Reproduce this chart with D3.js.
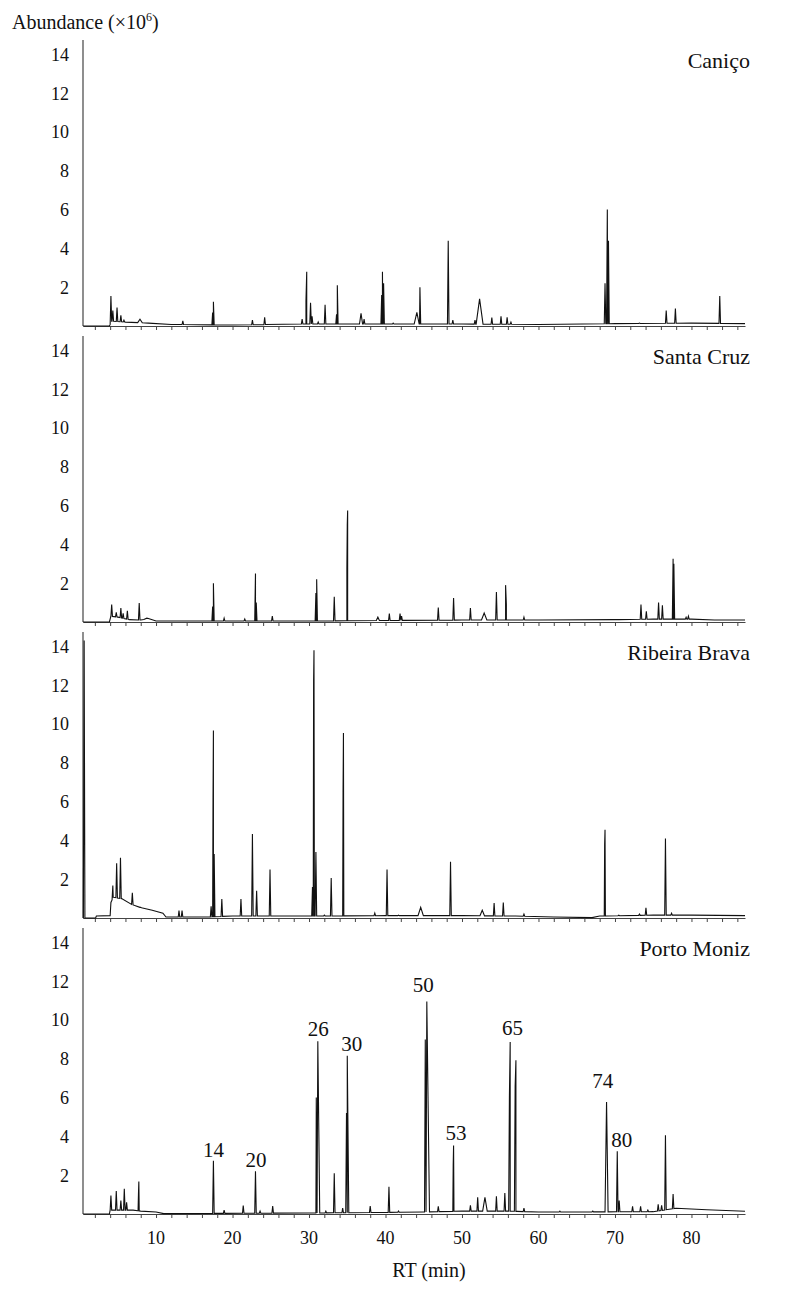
<!DOCTYPE html>
<html>
<head>
<meta charset="utf-8">
<script src="https://cdn.jsdelivr.net/npm/d3@7"></script>
<style>
  body { margin: 0; background: #fff; }
</style>
</head>
<body>
<script>
var width = 791, height = 1291;
var serifFont = "'Liberation Serif'";

// panel names, top to bottom
var sites = ["Caniço", "Santa Cruz", "Ribeira Brava", "Porto Moniz"];

// baseline drift of each trace: [RT (min), abundance x10^6]
var canicoBase = [[0.45,0],[3.9,0],[4.2,0.25],[6,0.2],[9,0.15],[12,0.08],[20,0.05],[29,0.1],[40,0.1],[50,0.1],[60,0.08],[70,0.12],[80,0.15],[87,0.12]];
var santaCruzBase = [[0.45,0],[3.9,0],[4.1,0.3],[5,0.25],[6.5,0.12],[8,0.1],[9,0.18],[10,0.05],[30,0.05],[40,0.08],[50,0.1],[60,0.1],[70,0.12],[75,0.15],[80,0.15],[83,0.1],[87,0.1]];
var ribeiraBase = [[0.45,0],[2.1,0],[2.2,0.1],[4.0,0.12],[4.1,0.8],[4.4,1.07],[5.5,1.0],[6.8,0.7],[7.9,0.55],[9.5,0.4],[10.9,0.25],[11.3,0.05],[16.5,0.05],[20,0.1],[30,0.1],[40,0.12],[50,0.12],[57,0.1],[62,0.05],[67,0.02],[68,0.1],[75,0.15],[80,0.15],[87,0.12]];
var portoBase = [[0.45,0],[3.9,0],[4.0,0.2],[7,0.2],[8,0.15],[10,0.1],[11,0.02],[30,0.05],[45,0.1],[50,0.15],[56,0.15],[60,0.1],[75,0.12],[78,0.3],[82,0.22],[87,0.14]];

// peaks: [RT (min), apex abundance x10^6, half width (min, optional)]
var canicoPeaks = [[4.1,1.55],[4.35,0.8],[4.9,0.95],[5.4,0.55],[5.8,0.3],[7.9,0.35,0.3],[13.5,0.26],[17.4,0.7],[17.5,1.25],[22.6,0.3],[24.2,0.45],[29.1,0.35],[29.6,1.3],[29.7,2.8],[30.2,1.2],[30.4,0.5],[31.2,0.2],[32.1,1.1],[33.6,0.6],[33.7,2.1],[36.8,0.65,0.2],[37.2,0.35],[39.5,1.6],[39.6,2.8],[39.75,2.2],[41.0,0.15],[44.1,0.7,0.35],[44.5,2.0],[48.2,4.4],[48.8,0.3],[51.7,0.3],[52.3,1.4,0.45],[53.9,0.43],[55.1,0.5],[55.9,0.45],[56.4,0.2],[68.7,2.2],[69.0,6.0],[69.15,4.4],[73.2,0.15],[76.7,0.8],[77.9,0.9],[83.7,1.55]];
var santaCruzPeaks = [[4.2,0.9],[4.8,0.5],[5.4,0.72],[5.7,0.45],[6.25,0.58],[7.8,0.98],[8.8,0.2,0.4],[17.4,0.8],[17.5,2.0],[18.9,0.2],[21.6,0.15],[23.0,2.5],[23.1,1.0],[25.2,0.3],[30.9,1.5],[31.0,2.2],[33.3,1.3],[34.95,2.8],[35.0,5.0],[35.05,5.75],[39.0,0.25,0.2],[40.5,0.43],[41.9,0.43],[42.1,0.3],[46.9,0.75],[48.9,1.24],[51.1,0.72],[52.9,0.46,0.35],[54.5,1.55],[55.7,1.9],[55.8,0.9],[58.1,0.25],[70.4,0.12],[73.4,0.9],[74.1,0.55],[75.7,1.0],[76.2,0.86],[77.6,3.26],[77.7,3.0],[79.3,0.25],[79.6,0.3]];
var ribeiraPeaks = [[0.6,14.3],[4.35,1.67],[4.85,2.82],[5.35,3.1],[6.9,1.3],[8.0,0.55],[13.0,0.38],[13.4,0.38],[17.2,0.6],[17.45,6.2],[17.5,9.66],[17.6,3.3],[18.6,0.98],[21.1,0.98],[22.6,4.33],[23.15,1.4],[24.9,2.5],[27.6,0.1],[30.45,1.6],[30.6,12.2],[30.65,13.8],[30.9,3.4],[32.0,0.15],[32.9,2.06],[34.45,6.5],[34.5,9.54],[38.6,0.25],[40.2,2.5],[41.7,0.15],[44.6,0.55,0.35],[48.5,2.9],[52.65,0.4,0.3],[54.2,0.77],[55.4,0.8],[58.1,0.2],[68.65,3.8],[68.7,4.55],[70.5,0.15],[73.2,0.2],[74.05,0.52],[76.6,4.1],[77.4,0.25]];
var portoPeaks = [[4.1,0.95],[4.8,1.19],[5.4,0.7],[5.85,1.3],[6.15,0.6],[7.7,1.0],[7.75,1.67],[17.5,2.75],[18.9,0.2],[21.4,0.43],[23.0,2.2],[23.6,0.15],[25.25,0.41],[30.95,6.0],[31.15,8.9,0.25],[32.2,0.15],[33.3,2.1],[34.4,0.3],[34.9,5.2],[35.0,8.16,0.2],[38.0,0.41],[40.45,1.4],[41.7,0.15],[45.2,9.0],[45.4,10.95,0.35],[46.9,0.4],[48.85,2.5],[48.9,3.53],[51.1,0.45],[52.05,0.86],[53.0,0.86,0.3],[54.5,0.91],[55.6,1.08],[56.2,6.1],[56.3,8.86,0.2],[56.95,6.6],[57.05,7.93,0.2],[58.1,0.3],[62.8,0.15],[67.1,0.15],[68.9,5.77,0.2],[70.3,3.24],[70.55,0.7],[72.3,0.4],[73.35,0.4],[74.3,0.2],[75.65,0.5],[76.1,0.45],[76.6,4.06],[77.6,1.03]];

// compound numbers written over the Porto Moniz trace: [label, RT, abundance]
var portoLabels = [["14",17.5,2.95],["20",23.07,2.42],["26",31.2,9.18],["30",35.6,8.4],["50",44.95,11.46],["53",49.2,3.81],["65",56.6,9.23],["74",68.4,6.49],["80",70.9,3.47]];

var yTicks = [2, 4, 6, 8, 10, 12, 14];
var xMinorTicks = d3.range(2, 87, 2);
var xTickLabels = [10, 20, 30, 40, 50, 60, 70, 80];

var bases = [canicoBase, santaCruzBase, ribeiraBase, portoBase];
var peaks = [canicoPeaks, santaCruzPeaks, ribeiraPeaks, portoPeaks];

var svg = d3.select("body").append("svg")
    .attr("width", width)
    .attr("height", height);

var x = d3.scaleLinear().domain([0.45, 87]).range([83, 745]);

var panelBottom = [326, 622, 918, 1214];
var panelHeight = 286;
var yMax = panelHeight / 19.4;

// every text gets the font inline, otherwise it falls back to sans
function label(sel, size) {
    return sel.style("font-family", serifFont)
        .style("font-size", size + "px")
        .attr("fill", "#111");
}

// y axis title
var title = label(svg.append("text").attr("x", 12).attr("y", 29), 20);
title.append("tspan").text("Abundance (×10");
title.append("tspan").text("6").style("font-size", "12px").attr("dy", -8);
title.append("tspan").text(")").attr("dy", 8);

sites.forEach(function(site, i) {
    var y = d3.scaleLinear().domain([0, yMax]).range([panelBottom[i], panelBottom[i] - panelHeight]);
    var g = svg.append("g");

    // baseline drift as a piecewise linear scale
    var base = d3.scaleLinear()
        .domain(bases[i].map(function(d) { return d[0]; }))
        .range(bases[i].map(function(d) { return d[1]; }));

    var pts = bases[i].map(function(d) { return [d[0], d[1]]; });
    peaks[i].forEach(function(p) {
        var hw = p[2] || 0.1;
        pts.push([p[0] - hw, base(p[0] - hw)]);
        pts.push([p[0], p[1]]);
        pts.push([p[0] + hw, base(p[0] + hw)]);
    });
    pts.sort(function(a, b) { return a[0] - b[0]; });

    // x axis with small ticks every 2 min
    var ax = g.append("g")
        .attr("transform", "translate(0," + panelBottom[i] + ")")
        .call(d3.axisBottom(x).tickValues(xMinorTicks).tickSize(4).tickSizeOuter(0).tickFormat(""));
    ax.select(".domain").attr("stroke", "#444");
    ax.selectAll(".tick line").attr("stroke", "#444");

    // y axis line
    g.append("line")
        .attr("x1", 83).attr("x2", 83)
        .attr("y1", y(0)).attr("y2", y(yMax))
        .attr("stroke", "#444").attr("stroke-width", 1.2);

    label(g.selectAll(".ylab")
        .data(yTicks)
        .enter()
        .append("text")
        .attr("x", 69)
        .attr("y", function(d) { return y(d); })
        .attr("dy", "0.35em")
        .attr("text-anchor", "end"), 18)
        .text(function(d) { return d; });

    g.append("path")
        .datum(pts)
        .attr("fill", "none")
        .attr("stroke", "#111")
        .attr("stroke-width", 1.1)
        .attr("d", d3.line()
            .x(function(d) { return x(d[0]); })
            .y(function(d) { return y(d[1]); }));

    label(g.append("text")
        .attr("x", 750)
        .attr("y", panelBottom[i] - 258)
        .attr("text-anchor", "end"), 22)
        .text(site);

    if (i == 3) {
        label(g.selectAll(".plab")
            .data(portoLabels)
            .enter()
            .append("text")
            .attr("x", function(d) { return x(d[1]); })
            .attr("y", function(d) { return y(d[2]); })
            .attr("text-anchor", "middle"), 21)
            .text(function(d) { return d[0]; });

        label(g.selectAll(".xlab")
            .data(xTickLabels)
            .enter()
            .append("text")
            .attr("x", function(d) { return x(d); })
            .attr("y", panelBottom[i] + 30)
            .attr("text-anchor", "middle"), 18)
            .text(function(d) { return d; });
    }
});

label(svg.append("text")
    .attr("x", 429).attr("y", 1277)
    .attr("text-anchor", "middle"), 20)
    .text("RT (min)");
</script>
</body>
</html>
